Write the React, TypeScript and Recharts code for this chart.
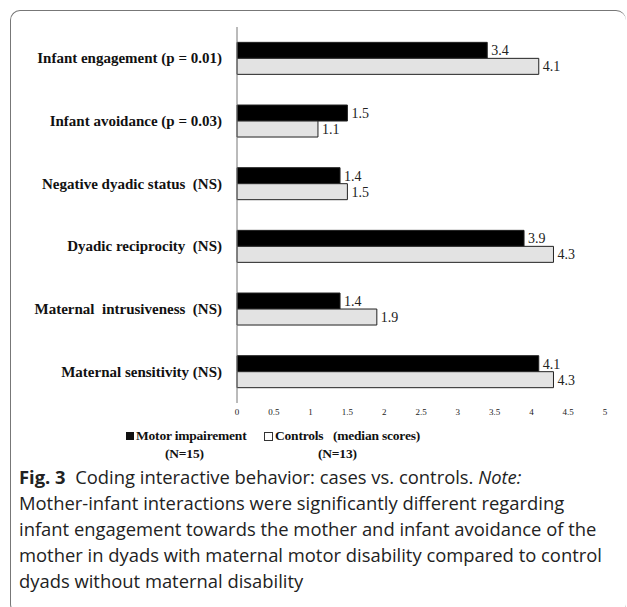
import React from 'react';
import { BarChart, Bar, XAxis, YAxis, LabelList } from 'recharts';

const categories = [
  'Infant engagement (p = 0.01)',
  'Infant avoidance (p = 0.03)',
  'Negative dyadic status  (NS)',
  'Dyadic reciprocity  (NS)',
  'Maternal  intrusiveness  (NS)',
  'Maternal sensitivity (NS)',
];
const motorImpairment = [3.4, 1.5, 1.4, 3.9, 1.4, 4.1];
const controls = [4.1, 1.1, 1.5, 4.3, 1.9, 4.3];
const xTicks = [0, 0.5, 1, 1.5, 2, 2.5, 3, 3.5, 4, 4.5, 5];

const data = categories.map((name, i) => ({ name, motor: motorImpairment[i], controls: controls[i] }));

const serif = '"Liberation Serif", "Times New Roman", serif';
const sans = '"Open Sans", "Noto Sans", sans-serif';

const CatTick = ({ x, y, payload }: any) => (
  <text x={x - 7} y={y} dy={5} textAnchor="end" fontFamily={serif} fontWeight="bold" fontSize={15} fill="#111">
    {payload.value.replace(/ /g, '\u00a0')}
  </text>
);

const NumTick = ({ x, y, payload }: any) => (
  <text x={x} y={y} dy={4} textAnchor="middle" fontFamily={serif} fontSize={9} fill="#222">
    {payload.value}
  </text>
);

export default function App() {
  return (
    <div style={{ position: 'absolute', left: 0, top: 0, width: 627, height: 607, background: '#fff', overflow: 'hidden' }}>
      <div style={{ position: 'absolute', left: 10, top: 10, width: 616, height: 604, borderLeft: '1.5px solid #777', borderTop: '1.5px solid #777', borderBottom: '1.5px solid #777', borderRadius: 10, boxSizing: 'border-box' }} />
      <div style={{ position: 'absolute', left: 0, top: 0 }}>
        <BarChart width={627} height={425} data={data} layout="vertical" margin={{ top: 27, right: 22, left: 0, bottom: 0 }} barCategoryGap="24.5%" barGap={0}>
          <XAxis type="number" domain={[0, 5]} ticks={xTicks} axisLine={false} tickLine={false} tick={<NumTick />} height={22} interval={0} />
          <YAxis type="category" dataKey="name" width={237} axisLine={{ stroke: '#777' }} tickLine={false} tick={<CatTick />} interval={0} />
          <Bar dataKey="motor" fill="#000" stroke="#222" strokeWidth={1} isAnimationActive={false}>
            <LabelList dataKey="motor" position="right" offset={4} fontFamily={serif} fontSize={14} fill="#222" />
          </Bar>
          <Bar dataKey="controls" fill="#e3e3e3" stroke="#222" strokeWidth={1} isAnimationActive={false}>
            <LabelList dataKey="controls" position="right" offset={4} fontFamily={serif} fontSize={14} fill="#222" />
          </Bar>
        </BarChart>
      </div>
      <div style={{ position: 'absolute', left: 126, top: 427, fontFamily: serif, fontWeight: 'bold', fontSize: 13.5, letterSpacing: -0.2, color: '#111', lineHeight: '18px' }}>
        <div style={{ display: 'flex', alignItems: 'center', whiteSpace: 'pre' }}>
          <span style={{ display: 'inline-block', width: 8, height: 8, background: '#111', marginRight: 2 }} />
          <span>Motor impairement</span>
        </div>
        <div style={{ paddingLeft: 39 }}>(N=15)</div>
      </div>
      <div style={{ position: 'absolute', left: 264, top: 427, fontFamily: serif, fontWeight: 'bold', fontSize: 13.5, letterSpacing: -0.2, color: '#111', lineHeight: '18px' }}>
        <div style={{ display: 'flex', alignItems: 'center', whiteSpace: 'pre' }}>
          <span style={{ display: 'inline-block', width: 7, height: 7, border: '1px solid #333', background: '#fff', marginRight: 2 }} />
          <span>Controls   (median scores)</span>
        </div>
        <div style={{ paddingLeft: 54 }}>(N=13)</div>
      </div>
      <div style={{ position: 'absolute', left: 19, top: 464, width: 608, fontFamily: sans, fontSize: 18.4, color: '#222', lineHeight: '26px', whiteSpace: 'nowrap' }}>
        <span style={{ fontWeight: 'bold' }}>Fig. 3</span>&nbsp; Coding interactive behavior: cases vs. controls. <i>Note:</i>
        <br />Mother-infant interactions were significantly different regarding
        <br />infant engagement towards the mother and infant avoidance of the
        <br />mother in dyads with maternal motor disability compared to control
        <br />dyads without maternal disability
      </div>
    </div>
  );
}
